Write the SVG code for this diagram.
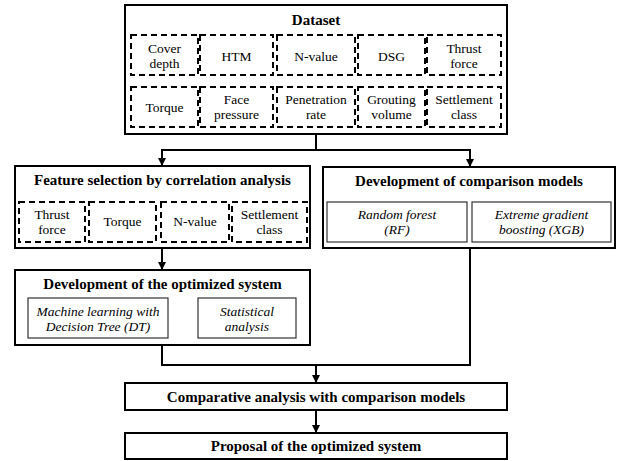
<svg xmlns="http://www.w3.org/2000/svg" width="617" height="461" viewBox="0 0 617 461">
<style>
.outer{fill:#fff;stroke:#000;stroke-width:2}
.dash{fill:none;stroke:#000;stroke-width:2;stroke-dasharray:6,4}
.inner{fill:#fff;stroke:#333;stroke-width:1.2}
text{font-family:'Liberation Serif','Times New Roman',Times,'DejaVu Serif',serif;fill:#000;text-anchor:middle}
.title{font-weight:bold;font-size:15px}
.t{font-size:13.5px}
.i{font-style:italic;font-size:13.5px}
.c{fill:none;stroke:#000;stroke-width:2}
.c1{fill:none;stroke:#000;stroke-width:1.5}
</style>
<defs>
<marker id="ah" markerWidth="8" markerHeight="8" refX="7" refY="4" orient="auto" markerUnits="userSpaceOnUse">
<path d="M0,0 L8,4 L0,8 Z" fill="#000"/>
</marker>
</defs>

<g id="connectors">
<path class="c" d="M316,135 V150 H162 V165" marker-end="url(#ah)"/>
<path class="c" d="M316,150 H470 V166" marker-end="url(#ah)"/>
<path class="c" d="M162,248 V269" marker-end="url(#ah)"/>
<path class="c1" d="M168,318 H197" marker-end="url(#ah)"/>
<path class="c" d="M162,345 V365 H470 V248"/>
<path class="c" d="M316,365 V382" marker-end="url(#ah)"/>
<path class="c" d="M316,410 V432" marker-end="url(#ah)"/>
</g>

<g id="dataset">
<rect class="outer" x="125" y="5" width="382" height="129"/>
<text class="title" x="316" y="25">Dataset</text>
<rect class="dash" x="131" y="35" width="67" height="40"/>
<rect class="dash" x="200" y="35" width="73" height="40"/>
<rect class="dash" x="277" y="35" width="78" height="40"/>
<rect class="dash" x="358" y="35" width="67" height="40"/>
<rect class="dash" x="427" y="35" width="74" height="40"/>
<text class="t" x="164.5" y="53">Cover</text><text class="t" x="164.5" y="68">depth</text>
<text class="t" x="236.5" y="61">HTM</text>
<text class="t" x="316" y="61">N-value</text>
<text class="t" x="391.5" y="61">DSG</text>
<text class="t" x="464" y="53">Thrust</text><text class="t" x="464" y="68">force</text>
<rect class="dash" x="131" y="87" width="67" height="40"/>
<rect class="dash" x="200" y="87" width="73" height="40"/>
<rect class="dash" x="277" y="87" width="78" height="40"/>
<rect class="dash" x="358" y="87" width="67" height="40"/>
<rect class="dash" x="427" y="87" width="74" height="40"/>
<text class="t" x="164.5" y="112">Torque</text>
<text class="t" x="236.5" y="104">Face</text><text class="t" x="236.5" y="119">pressure</text>
<text class="t" x="316" y="104">Penetration</text><text class="t" x="316" y="119">rate</text>
<text class="t" x="391.5" y="104">Grouting</text><text class="t" x="391.5" y="119">volume</text>
<text class="t" x="464" y="104">Settlement</text><text class="t" x="464" y="119">class</text>
</g>

<g id="feature-selection">
<rect class="outer" x="15" y="166" width="295" height="82"/>
<text class="title" x="162.5" y="185">Feature selection by correlation analysis</text>
<rect class="dash" x="19" y="202" width="66" height="40"/>
<rect class="dash" x="89" y="202" width="67" height="40"/>
<rect class="dash" x="161" y="202" width="68" height="40"/>
<rect class="dash" x="232" y="202" width="75" height="40"/>
<text class="t" x="52" y="219">Thrust</text><text class="t" x="52" y="234">force</text>
<text class="t" x="122.5" y="226">Torque</text>
<text class="t" x="195" y="226">N-value</text>
<text class="t" x="269.5" y="219">Settlement</text><text class="t" x="269.5" y="234">class</text>
</g>

<g id="comparison-models">
<rect class="outer" x="323" y="167" width="292" height="81"/>
<text class="title" x="469" y="186">Development of comparison models</text>
<rect class="inner" x="327" y="202" width="140" height="40"/>
<rect class="inner" x="472" y="202" width="139" height="40"/>
<text class="i" x="397" y="219">Random forest</text><text class="i" x="397" y="234">(RF)</text>
<text class="i" x="541.5" y="219">Extreme gradient</text><text class="i" x="541.5" y="234">boosting (XGB)</text>
</g>

<g id="optimized-system">
<rect class="outer" x="15" y="270" width="295" height="75"/>
<text class="title" x="162.5" y="289">Development of the optimized system</text>
<rect class="inner" x="28" y="298" width="140" height="40"/>
<rect class="inner" x="198" y="298" width="98" height="40"/>
<text class="i" x="98" y="316">Machine learning with</text><text class="i" x="98" y="331">Decision Tree (DT)</text>
<text class="i" x="247" y="316">Statistical</text><text class="i" x="247" y="331">analysis</text>
</g>

<g id="comparative-analysis">
<rect class="outer" x="125" y="383" width="382" height="27"/>
<text class="title" x="316" y="402">Comparative analysis with comparison models</text>
</g>

<g id="proposal">
<rect class="outer" x="125" y="433" width="382" height="26"/>
<text class="title" x="316" y="451">Proposal of the optimized system</text>
</g>
</svg>
